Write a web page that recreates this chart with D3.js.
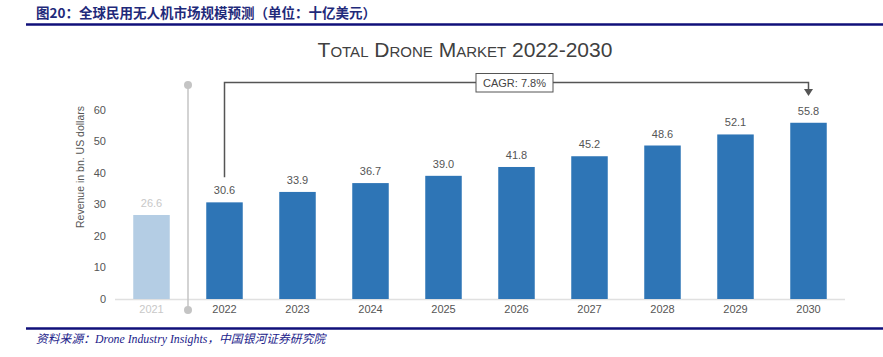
<!DOCTYPE html>
<html><head><meta charset="utf-8">
<script src="https://cdn.jsdelivr.net/npm/d3@7"></script>
<style>
body{margin:0;background:#fff;}
svg{display:block;}
</style></head>
<body>
<svg id="c" width="883" height="357"></svg>
<script>
const categories = ["2021","2022","2023","2024","2025","2026","2027","2028","2029","2030"];
const revenue = [26.6,30.6,33.9,36.7,39.0,41.8,45.2,48.6,52.1,55.8];
const yTicks = [0,10,20,30,40,50,60];
const headerTitle = "图20：全球民用无人机市场规模预测（单位：十亿美元）";
const chartTitle = "Total Drone Market 2022-2030";
const yAxisTitle = "Revenue in bn. US dollars";
const cagrLabel = "CAGR: 7.8%";
const sourceText = "资料来源：Drone Industry Insights，中国银河证券研究院";

const svg = d3.select("#c");

// header
svg.append("text").attr("x",36).attr("y",18)
  .attr("font-family","'Noto Sans CJK SC', sans-serif").attr("font-weight","bold")
  .attr("font-size",13.5).attr("fill","#1f2a7a").text(headerTitle);
svg.append("line").attr("x1",26).attr("x2",883).attr("y1",24.5).attr("y2",24.5)
  .attr("stroke","#10107a").attr("stroke-width",2.5);

// footer
svg.append("line").attr("x1",26).attr("x2",883).attr("y1",328.5).attr("y2",328.5)
  .attr("stroke","#10107a").attr("stroke-width",2.5);
svg.append("text").attr("x",36).attr("y",343)
  .attr("font-family","'Liberation Serif', 'Noto Sans CJK SC', serif").attr("font-style","italic")
  .attr("font-size",11.8).attr("fill","#22228a").text(sourceText);

// chart title
svg.append("text").attr("x",465).attr("y",57).attr("text-anchor","middle")
  .attr("font-family","'Liberation Sans', Arial, sans-serif").attr("font-size",21)
  .style("font-variant","small-caps").attr("fill","#404040").text(chartTitle);

const x = d3.scaleBand().domain(categories).range([115,845]).paddingInner(0.5).paddingOuter(0.25);
const y = d3.scaleLinear().domain([0,60]).range([299,109.5]);

// baseline
svg.append("line").attr("x1",115).attr("x2",845).attr("y1",y(0)+0.5).attr("y2",y(0)+0.5)
  .attr("stroke","#e0e0e0").attr("stroke-width",1.5);

// y axis labels
const yAxis = d3.axisLeft(y).tickValues(yTicks).tickSize(0).tickPadding(0);
const gy = svg.append("g").attr("transform","translate(106,0)").call(yAxis);
gy.select(".domain").remove();
gy.selectAll("text").attr("font-family","'Liberation Sans', Arial, sans-serif")
  .attr("font-size",11).attr("fill","#555");

svg.append("text").attr("transform","translate(84,167) rotate(-90)").attr("text-anchor","middle")
  .attr("font-family","'Liberation Sans', Arial, sans-serif").attr("font-size",10.5)
  .attr("fill","#555").text(yAxisTitle);

// x axis labels
const xAxis = d3.axisBottom(x).tickSize(0).tickPadding(0);
const gx = svg.append("g").attr("transform","translate(0,305)").call(xAxis);
gx.select(".domain").remove();
gx.selectAll("text").attr("font-family","'Liberation Sans', Arial, sans-serif")
  .attr("font-size",11).attr("fill",(d,i)=> i===0 ? "#c8c8c8" : "#555");

// bars
svg.selectAll("rect.bar").data(categories).enter().append("rect")
  .attr("class","bar")
  .attr("x",d=>x(d)).attr("width",x.bandwidth())
  .attr("y",(d,i)=>y(revenue[i])).attr("height",(d,i)=>y(0)-y(revenue[i]))
  .attr("fill",(d,i)=> i===0 ? "#b4cde4" : "#2e75b6");

// value labels
svg.selectAll("text.val").data(categories).enter().append("text")
  .attr("class","val")
  .attr("x",d=>x(d)+x.bandwidth()/2).attr("y",(d,i)=>y(revenue[i])-8)
  .attr("text-anchor","middle")
  .attr("font-family","'Liberation Sans', Arial, sans-serif").attr("font-size",11)
  .attr("fill",(d,i)=> i===0 ? "#c8c8c8" : "#555")
  .text((d,i)=>revenue[i].toFixed(1));

// separator
const sepX = (x(categories[0]) + x.bandwidth() + x(categories[1]))/2;
svg.append("line").attr("x1",sepX).attr("x2",sepX).attr("y1",85).attr("y2",310)
  .attr("stroke","#c4c4c4").attr("stroke-width",1.5);
svg.append("circle").attr("cx",sepX).attr("cy",85).attr("r",4).attr("fill","#c4c4c4");
svg.append("circle").attr("cx",sepX).attr("cy",310).attr("r",4).attr("fill","#c4c4c4");

// CAGR bracket
const x0 = x(categories[1]) + x.bandwidth()/2;
const x1 = x(categories[categories.length-1]) + x.bandwidth()/2;
const topY = 82.5;
svg.append("path")
  .attr("d",`M${x0},${y(revenue[1])-25}V${topY}H${x1}V${90}`)
  .attr("fill","none").attr("stroke","#555").attr("stroke-width",1.5);
svg.append("path")
  .attr("d",`M${x1-4.5},${89}L${x1+4.5},${89}L${x1},${96}Z`).attr("fill","#555");
const bx = 514;
svg.append("rect").attr("x",bx-38).attr("y",73.5).attr("width",77).attr("height",18.5)
  .attr("fill","#fff").attr("stroke","#555").attr("stroke-width",1);
svg.append("text").attr("x",bx+0.5).attr("y",86.5).attr("text-anchor","middle")
  .attr("font-family","'Liberation Sans', Arial, sans-serif").attr("font-size",11)
  .attr("fill","#444").text(cagrLabel);
</script>
</body></html>
